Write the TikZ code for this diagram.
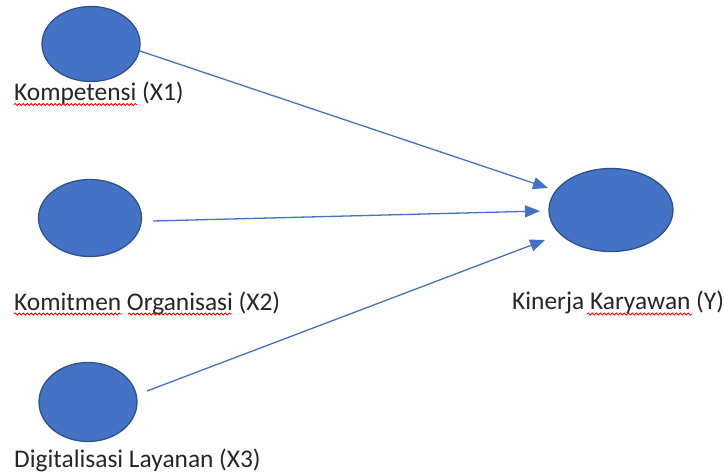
\documentclass[tikz,border=0pt]{standalone}
\usepackage{fontspec}
\setmainfont{Carlito}
\usetikzlibrary{shapes.geometric,arrows.meta,decorations.pathmorphing}
\definecolor{fillblue}{HTML}{4472C4}
\definecolor{edgeblue}{HTML}{2F528F}
\definecolor{txt}{HTML}{262626}
\begin{document}
\begin{tikzpicture}[x=1pt,y=-1pt,
  var/.style={ellipse,draw=edgeblue,fill=fillblue,line width=1.3pt,inner sep=0pt},
  lbl/.style={anchor=base west,inner sep=0pt,text=txt,font=\fontsize{25.4}{30}\selectfont},
  conn/.style={draw=fillblue,line width=1.3pt,-{Triangle[length=15pt,width=12pt]}},
  spell/.style={draw=red,line width=0.8pt,decorate,decoration={snake,segment length=4pt,amplitude=1.1pt}}]
\useasboundingbox (0,0) rectangle (724,472);
\fill[white] (0,0) rectangle (724,472);
% ellipses
\node[var,minimum width=98pt,minimum height=75pt] (x1) at (91,44) {};
\node[var,minimum width=103pt,minimum height=77pt] (x2) at (90,218) {};
\node[var,minimum width=98pt,minimum height=79pt] (x3) at (88,402) {};
\node[var,minimum width=124pt,minimum height=83pt] (y) at (611,210) {};
% labels
\node[lbl] (l1) at (14,100) {Kompetensi (X1)};
\node[lbl] (l2) at (14,310) {Komitmen Organisasi (X2)};
\node[lbl] (l3) at (14,467) {Digitalisasi Layanan (X3)};
\node[lbl] (ly) at (512,309) {Kinerja Karyawan (Y)};
% connectors
\coordinate (s1) at (140,51);
\coordinate (e1) at (548,188);
\coordinate (s2) at (153,221);
\coordinate (e2) at (540,211);
\coordinate (s3) at (147,391);
\coordinate (e3) at (545,240);
\draw[conn] (s1) -- (e1);
\draw[conn] (s2) -- (e2);
\draw[conn] (s3) -- (e3);
% spell-check underlines
\coordinate (u1a) at (14,104.5);
\coordinate (u1b) at (137,104.5);
\coordinate (u2a) at (14,314);
\coordinate (u2b) at (122,314);
\coordinate (u3a) at (128,314);
\coordinate (u3b) at (232,314);
\coordinate (u4a) at (587,314);
\coordinate (u4b) at (692,314);
\draw[spell] (u1a) -- (u1b);
\draw[spell] (u2a) -- (u2b);
\draw[spell] (u3a) -- (u3b);
\draw[spell] (u4a) -- (u4b);
\end{tikzpicture}
\end{document}
